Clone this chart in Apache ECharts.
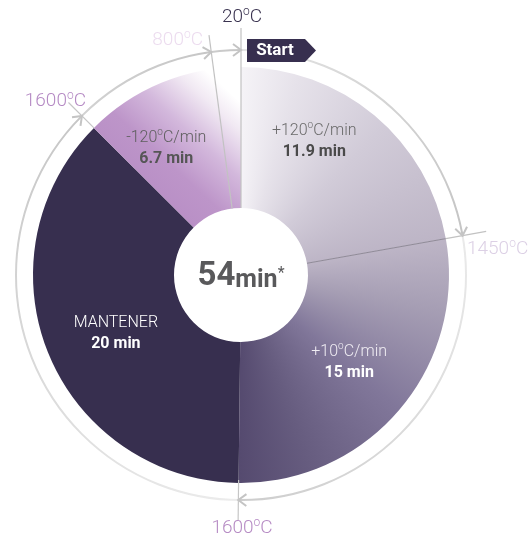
<!DOCTYPE html>
<html>
<head>
<meta charset="utf-8">
<script src="https://cdn.jsdelivr.net/npm/echarts@6/dist/echarts.min.js"></script>
<style>
html,body{margin:0;padding:0;background:#ffffff;}
#c{width:531px;height:538px;}
</style>
</head>
<body>
<div id="c"></div>
<script>
// ---------------- data ----------------
const phases = ['+120ºC/min', '+10ºC/min', 'MANTENER', '-120ºC/min'];
const minutes = [11.9, 15, 20, 6.7];
const startTemps = ['20ºC', '1450ºC', '1600ºC', '1600ºC']; // temperature at the start of each phase
const endTemp = '800ºC';
const totalMinutes = '54';
const startText = 'Start';

// ---------------- geometry / style ----------------
const CX = 241, CY = 275, R0 = 67, R1 = 208, RR = 225;
const FONT = 'Roboto, "Noto Sans", sans-serif';
const COOL_END_DEG = 352.4;          // where the 800ºC tick sits
const total = minutes.reduce((a, b) => a + b, 0);
const bounds = [];
{ let acc = 0; minutes.forEach(m => { bounds.push(acc / total * 360); acc += m; }); }
bounds.push(360);

function pt(deg, r) {
  const a = deg * Math.PI / 180;
  return [CX + r * Math.sin(a), CY - r * Math.cos(a)];
}

function conicCanvas(stops, fallback) {
  const c = document.createElement('canvas');
  c.width = 531; c.height = 538;
  const g = c.getContext('2d');
  if (g.createConicGradient) {
    const grad = g.createConicGradient(-Math.PI / 2, CX, CY);
    stops.forEach(([d, col]) => grad.addColorStop(Math.min(1, Math.max(0, d / 360)), col));
    g.fillStyle = grad;
  } else {
    g.fillStyle = fallback;
  }
  g.fillRect(0, 0, 531, 538);
  return c;
}

// segment gradient (conic) for the two heating phases
const b1 = bounds[1], b2 = bounds[2], b3 = bounds[3];
const pieCanvas = conicCanvas([
  [0, '#f5f3f7'],
  [b1 * 0.2, '#e6e2ea'],
  [b1 * 0.55, '#d1cbd8'],
  [b1, '#bdb5c6'],
  [b1 + (b2 - b1) * 0.2, '#a69eb4'],
  [b1 + (b2 - b1) * 0.5, '#81779a'],
  [b1 + (b2 - b1) * 0.8, '#665c7f'],
  [b2, '#554a6f'],
  [360, '#554a6f']
], '#b0a8bc');

const ringCanvas = conicCanvas([
  [0, '#e4e4e4'], [b1 - 0.5, '#c4c4c4'],
  [b1 + 0.5, '#eaeaea'], [b2 - 0.5, '#cdcdcd'],
  [b2 + 0.5, '#ececec'], [b3 - 0.5, '#c6c6c6'],
  [b3 + 0.5, '#d2d2d2'], [COOL_END_DEG - 0.5, '#c6c6c6'],
  [COOL_END_DEG + 0.5, '#cccccc'], [360, '#c6c6c6']
], '#d6d6d6');

const FILLS = [
  { image: pieCanvas, repeat: 'no-repeat' },
  { image: pieCanvas, repeat: 'no-repeat' },
  '#372f4f',
  { type: 'linear', x: 0, y: 1, x2: 1, y2: 0, colorStops: [
    { offset: 0, color: '#b084bf' },
    { offset: 0.45, color: '#bd95c9' },
    { offset: 0.62, color: '#d3b8dc' },
    { offset: 0.78, color: '#f1e9f3' },
    { offset: 0.88, color: '#ffffff' },
    { offset: 1, color: '#ffffff' }
  ] }
];
const LABEL_COLORS = [
  ['#6a6a6a', '#4a4a4a'],
  ['#f0edf3', '#ffffff'],
  ['#ffffff', '#ffffff'],
  ['#5e5e5e', '#555555']
];
const NUDGE = [[-17, -26], [1, -3], [5, 5], [-21, 3]];

function supTokens(str, main) {
  return str.split('º').map(p => p ? `{${main}|${p}}` : '').join('{s|o}');
}
function richFor(cols) {
  return {
    a: { color: cols[0], fontSize: 16, fontWeight: 300, fontFamily: FONT, lineHeight: 21 },
    s: { color: cols[0], fontSize: 10, fontWeight: 300, fontFamily: FONT, lineHeight: 12, verticalAlign: 'top' },
    b: { color: cols[1], fontSize: 16, fontWeight: 'bold', fontFamily: FONT, lineHeight: 21 }
  };
}

// ---------------- graphic decorations ----------------
const G = [];
let z = 10;
G.push({ type: 'circle', z: z++, silent: true, shape: { cx: CX, cy: CY, r: RR },
  style: { fill: 'none', stroke: { image: ringCanvas, repeat: 'no-repeat' }, lineWidth: 2 } });

function line(p1, p2, color, w) {
  G.push({ type: 'line', z: z++, silent: true, shape: { x1: p1[0], y1: p1[1], x2: p2[0], y2: p2[1] },
    style: { stroke: color, lineWidth: w || 1 } });
}
// radial ticks
line(pt(0, 247), pt(0, R0), '#c2c2c2', 1.2);
line(pt(COOL_END_DEG, 242), pt(COOL_END_DEG, R0), '#c2c2c2', 1.2);
line(pt(b1, R0), pt(b1, R1), '#8f8a97', 1);
line(pt(b1, R1), pt(b1, 249), '#c2c2c2', 1.2);
line(pt(b2, R1 - 3), pt(b2, 245), '#c6c6c6', 1.2);
line(pt(b3, R1), pt(b3, 244), '#c6c6c6', 1.2);

// arrowheads (clockwise)
[0, b1, b2, b3, COOL_END_DEG].forEach(d => {
  const a = d * Math.PI / 180;
  const P = pt(d, RR);
  const t = [Math.cos(a), Math.sin(a)], n = [Math.sin(a), -Math.cos(a)];
  const L = 8, W = 6;
  G.push({ type: 'polyline', z: z++, silent: true, shape: { points: [
    [P[0] - L * t[0] + W * n[0], P[1] - L * t[1] + W * n[1]], P,
    [P[0] - L * t[0] - W * n[0], P[1] - L * t[1] - W * n[1]]] },
    style: { stroke: '#c4c4c4', lineWidth: 2, fill: 'none' } });
});

// Start tag
G.push({ type: 'polygon', z: z++, silent: true, shape: { points: [[247, 39], [305, 39], [316, 50.5], [305, 62], [247, 62]] },
  style: { fill: '#372f4f' } });
G.push({ type: 'text', z: z++, silent: true, x: 275, y: 51,
  style: { text: startText, fill: '#ffffff', fontSize: 17, fontWeight: 'bold', fontFamily: FONT, align: 'center', verticalAlign: 'middle' } });

// temperature labels
function tempText(str, x, y, align, color) {
  G.push({ type: 'text', z: z++, silent: true, x: x, y: y, style: {
    text: supTokens(str, 'n'), align: align, verticalAlign: 'middle',
    rich: {
      n: { fill: color, fontSize: 19, fontWeight: 300, fontFamily: FONT, lineHeight: 22 },
      s: { fill: color, fontSize: 12, fontWeight: 300, fontFamily: FONT, lineHeight: 13, verticalAlign: 'top' }
    } } });
}
tempText(startTemps[0], 242, 17, 'center', '#3a3350');
tempText(endTemp, 203, 40, 'right', '#ecdcef');
tempText(startTemps[1], 467, 249, 'left', '#dcd0e5');
tempText(startTemps[2], 242, 528, 'center', '#b68bc4');
tempText(startTemps[3], 86, 101, 'right', '#b58ac4');

// center total
G.push({ type: 'text', z: z++, silent: true, x: CX, y: CY, style: {
  text: `{a|${totalMinutes}}{b|min}{c|*}`, align: 'center', verticalAlign: 'middle',
  rich: {
    a: { fill: '#59595b', fontSize: 33, fontWeight: 'bold', fontFamily: FONT, lineHeight: 36, verticalAlign: 'bottom' },
    b: { fill: '#59595b', fontSize: 25, fontWeight: 'bold', fontFamily: FONT, lineHeight: 33, verticalAlign: 'bottom' },
    c: { fill: '#59595b', fontSize: 16, fontWeight: 'normal', fontFamily: FONT, lineHeight: 16, verticalAlign: 'top', padding: [9, 0, 0, 0] }
  } } });

// ---------------- chart ----------------
const chart = echarts.init(document.getElementById('c'), null, { renderer: 'canvas' });
chart.setOption({
  animation: false,
  backgroundColor: '#ffffff',
  series: [{
    type: 'pie',
    silent: true,
    center: [CX, CY],
    radius: [R0, R1],
    startAngle: 90,
    clockwise: true,
    avoidLabelOverlap: false,
    itemStyle: { borderWidth: 0 },
    label: {
      show: true,
      position: 'inside',
      fontFamily: FONT,
      formatter: p => supTokens(phases[p.dataIndex], 'a') + '\n' + `{b|${minutes[p.dataIndex]} min}`
    },
    labelLine: { show: false },
    labelLayout: p => ({ dx: NUDGE[p.dataIndex][0], dy: NUDGE[p.dataIndex][1] }),
    data: minutes.map((m, i) => ({
      name: phases[i],
      value: m,
      itemStyle: { color: FILLS[i] },
      label: { rich: richFor(LABEL_COLORS[i]) }
    }))
  }],
  graphic: { elements: G }
});
</script>
</body>
</html>
